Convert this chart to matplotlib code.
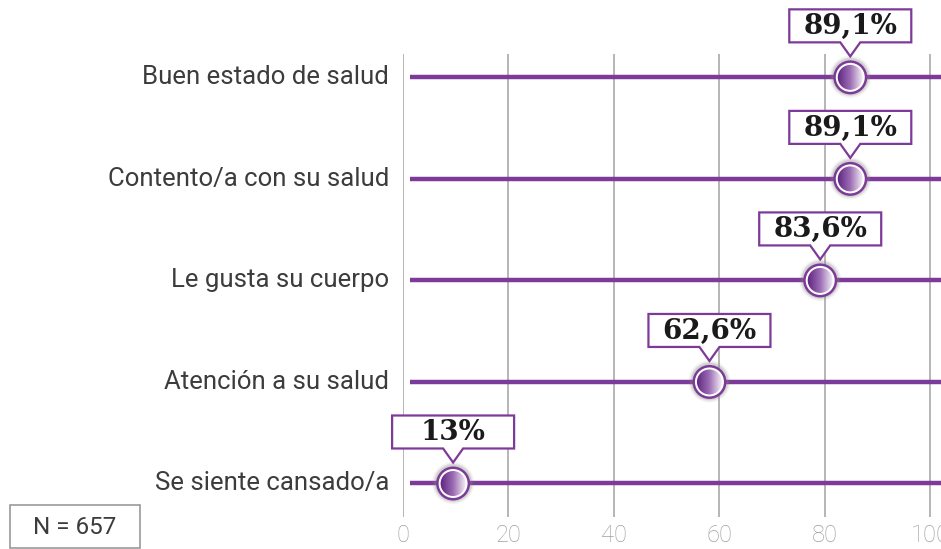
import numpy as np
import matplotlib.pyplot as plt
import matplotlib.transforms as mtransforms
from matplotlib.patches import Circle, Polygon, Rectangle

categories = ["Buen estado de salud", "Contento/a con su salud", "Le gusta su cuerpo",
              "Atención a su salud", "Se siente cansado/a"]
labels = ["89,1%", "89,1%", "83,6%", "62,6%", "13%"]
# where the markers sit on the 0-100 scale in the picture
positions = [84.8, 84.8, 79.1, 58.1, 9.5]
ticks = [0, 20, 40, 60, 80, 100]
note = "N = 657"

PURPLE = "#7D3A98"
DARK = "#3C3C3C"


def main():
    fig = plt.figure(figsize=(9.41, 5.49), dpi=100)
    ax = fig.add_axes([403 / 941, 1 - 517 / 549, 1 - 403 / 941, (517 - 54) / 549])
    ax.set_xlim(0, 102)
    ax.set_ylim(4.33, -0.23)

    for s in ax.spines.values():
        s.set_visible(False)
    ax.set_xticks(ticks)
    ax.set_xticklabels([str(t) for t in ticks], fontsize=17, color="#A0A0A0",
                       family="Roboto", fontweight="light")
    ax.tick_params(axis="x", length=0, pad=5)
    ax.set_yticks([])
    ax.grid(axis="x", color="#B0B0B0", lw=1.3)
    ax.set_axisbelow(True)

    y = np.arange(len(categories))
    ax.hlines(y, 1.3, 102, color=PURPLE, lw=3.2, zorder=2)

    for yi, cat in zip(y, categories):
        ax.text(-2.6, yi, cat, ha="right", va="center", fontsize=18.5, color=DARK,
                family="Roboto", fontweight="normal")

    grad = np.linspace(0, 1, 64)[None, :]
    cmap = plt.matplotlib.colors.LinearSegmentedColormap.from_list(
        "g", ["#5E2380", "#9A6BB2", "#F3EEF6"])
    sx = ax.bbox.width / 102.0
    sy = ax.bbox.height / 4.56

    for yi, pos, lab in zip(y, positions, labels):
        off = mtransforms.Affine2D() + mtransforms.ScaledTranslation(pos, yi, ax.transData)
        # shadow
        for r, a in [(21, 0.10), (19.5, 0.15), (18.5, 0.2)]:
            ax.add_patch(Circle((0, 0.5), r, transform=off, color="#888888",
                                alpha=a, lw=0, zorder=3, clip_on=False))
        ax.add_patch(Circle((0, 0), 17, transform=off, color=PURPLE, lw=0, zorder=4,
                            clip_on=False))
        ax.add_patch(Circle((0, 0), 14.5, transform=off, color="white", lw=0, zorder=5,
                            clip_on=False))
        clip = Circle((0, 0), 12.5, transform=off, facecolor="none", lw=0)
        ax.add_patch(clip)
        im = ax.imshow(grad, cmap=cmap, aspect="auto", zorder=6,
                       extent=(pos - 13 / sx, pos + 13 / sx, yi + 13 / sy, yi - 13 / sy))
        im.set_clip_path(clip)

        # callout box with pointer
        w, h, b, tip = 61, 33, 35, 21
        verts = [(-w, b), (-10, b), (0, tip), (10, b), (w, b),
                 (w, b + h), (-w, b + h)]
        ax.add_patch(Polygon(verts, closed=True, transform=off, facecolor="white",
                             edgecolor=PURPLE, lw=1.6, zorder=7, clip_on=False))
        ax.text(0, b + h / 2 - 1, lab, transform=off, ha="center", va="center",
                fontsize=20, fontweight="bold", family="DejaVu Serif",
                color="#1A1A1A", zorder=8, clip_on=False)

    ax.set_xlim(0, 102)
    ax.set_ylim(4.33, -0.23)

    fig.patches.append(Rectangle((10 / 941, 1 - 548 / 549), 130 / 941, 43 / 549,
                                 transform=fig.transFigure, facecolor="white",
                                 edgecolor="#9A9A9A", lw=1.2))
    fig.text(75 / 941, 1 - 527 / 549, note, ha="center", va="center", fontsize=17.5,
             color=DARK, family="Roboto", fontweight="normal")

    fig.savefig("out.png", dpi=100)


if __name__ == "__main__":
    main()
